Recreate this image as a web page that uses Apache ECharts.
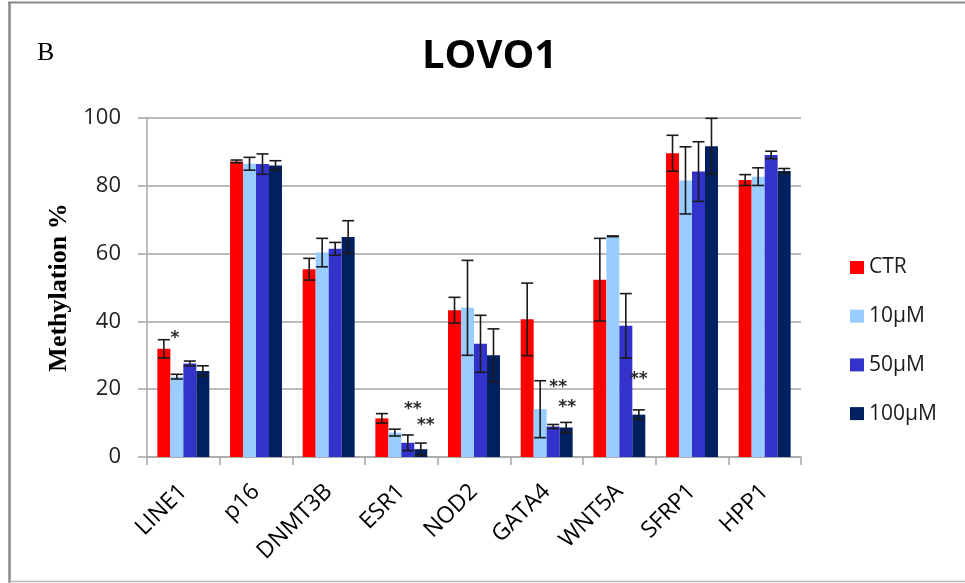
<!DOCTYPE html>
<html>
<head>
<meta charset="utf-8">
<script src="https://cdn.jsdelivr.net/npm/echarts@6/dist/echarts.min.js"></script>
<style>
  html, body { margin: 0; padding: 0; background: #fff; }
  #chart { width: 965px; height: 583px; }
</style>
</head>
<body>
<div id="chart"></div>
<script>
// Genes on the x axis
const genes = ['LINE1', 'p16', 'DNMT3B', 'ESR1', 'NOD2', 'GATA4', 'WNT5A', 'SFRP1', 'HPP1'];

// Treatment groups
const doses = ['CTR', '10µM', '50µM', '100µM'];

// Mean methylation (%) per gene, one array per treatment
const ctrMean   = [31.9, 87.2, 55.4, 11.4, 43.3, 40.6, 52.3, 89.6, 81.7];
const m10Mean   = [23.7, 86.5, 60.3,  7.2, 44.0, 14.1, 65.1, 81.6, 82.7];
const m50Mean   = [27.6, 86.4, 61.4,  4.2, 33.4,  9.0, 38.7, 84.2, 89.1];
const m100Mean  = [25.4, 86.0, 64.9,  2.3, 30.0,  8.7, 12.5, 91.7, 84.4];

// Error (± SD) per gene, one array per treatment
const ctrErr    = [2.7, 0.4, 3.2, 1.4,  3.8, 10.7, 12.2, 5.3, 1.6];
const m10Err    = [0.7, 1.9, 4.2, 1.0, 14.0,  8.4,  0.1, 9.9, 2.6];
const m50Err    = [0.7, 3.0, 1.9, 2.3,  8.4,  0.6,  9.5, 8.8, 1.1];
const m100Err   = [1.5, 1.4, 4.8, 1.8,  7.8,  1.5,  1.4, 8.2, 0.7];

// Significance markers: [gene, treatment, mark]
const sigMarks = [
  ['LINE1', '10µM',  '*'],
  ['ESR1',  '50µM',  '**'],
  ['ESR1',  '100µM', '**'],
  ['GATA4', '50µM',  '**'],
  ['GATA4', '100µM', '**'],
  ['WNT5A', '100µM', '**']
];

// Y axis ticks
const yTicks = [0, 20, 40, 60, 80, 100];

const means = [ctrMean, m10Mean, m50Mean, m100Mean];
const errs  = [ctrErr, m10Err, m50Err, m100Err];
const colors = ['#FF0000', '#99CCFF', '#3333CC', '#002060'];

// Bar layout shared by the bars and the error-bar overlay
const CAT_GAP = 0.285;
const nSeries = doses.length;

// Hand-placed nudges for the significance marks (px, relative to the bar top)
const sigNudge = {
  'LINE1|10µM':  [-2, -38],
  'ESR1|50µM':   [5, -33],
  'ESR1|100µM':  [5, -24],
  'GATA4|50µM':  [5, -39],
  'GATA4|100µM': [1, -20],
  'WNT5A|100µM': [0, -35]
};

function barCenterX(api, cat, s) {
  const band = api.size([1, 0])[0];
  const bw = band * (1 - CAT_GAP) / nSeries;
  return { x: api.coord([cat, 0])[0] + (s - (nSeries - 1) / 2) * bw, bw: bw };
}

const barSeries = doses.map((d, i) => ({
  name: d,
  type: 'bar',
  data: means[i],
  barGap: '0%',
  barCategoryGap: (CAT_GAP * 100) + '%',
  itemStyle: { color: colors[i] },
  z: 2
}));

const errData = [];
means.forEach((arr, s) => arr.forEach((v, c) => errData.push([c, s, v, errs[s][c]])));

const errSeries = {
  type: 'custom',
  name: 'error',
  data: errData,
  encode: { x: 0, y: 2 },
  z: 5,
  silent: true,
  renderItem: function (params, api) {
    const cat = api.value(0), s = api.value(1), v = api.value(2), e = api.value(3);
    const b = barCenterX(api, cat, s);
    const yTop = api.coord([cat, v + e])[1];
    const yBot = api.coord([cat, Math.max(0, v - e)])[1];
    const hw = b.bw / 2 - 0.5;
    const style = { stroke: '#1a1a1a', lineWidth: 1.6 };
    return {
      type: 'group',
      children: [
        { type: 'line', shape: { x1: b.x, y1: yTop, x2: b.x, y2: yBot }, style: style },
        { type: 'line', shape: { x1: b.x - hw, y1: yTop, x2: b.x + hw, y2: yTop }, style: style },
        { type: 'line', shape: { x1: b.x - hw, y1: yBot, x2: b.x + hw, y2: yBot }, style: style }
      ]
    };
  }
};

const sigData = sigMarks.map(m => {
  const c = genes.indexOf(m[0]), s = doses.indexOf(m[1]);
  return [c, s, means[s][c], m[2], m[0] + '|' + m[1]];
});

const sigSeries = {
  type: 'custom',
  name: 'sig',
  data: sigData,
  encode: { x: 0, y: 2 },
  z: 6,
  silent: true,
  renderItem: function (params, api) {
    const item = sigData[params.dataIndex];
    const b = barCenterX(api, item[0], item[1]);
    const y = api.coord([item[0], item[2]])[1];
    const n = sigNudge[item[4]] || [0, -20];
    return {
      type: 'text',
      x: b.x + n[0],
      y: y + n[1],
      style: {
        text: item[3],
        fill: '#2a2a2a',
        font: 'bold 17px "DejaVu Sans"',
        align: 'center',
        verticalAlign: 'middle'
      }
    };
  }
};

const chart = echarts.init(document.getElementById('chart'), null, { renderer: 'canvas' });

chart.setOption({
  backgroundColor: '#ffffff',
  animation: false,
  title: [
    {
      text: 'LOVO1',
      left: 417,
      top: 32,
      textStyle: { fontFamily: 'Open Sans', fontWeight: 'bold', fontSize: 40, color: '#000' }
    },
    {
      text: 'B',
      left: 32,
      top: 35,
      textStyle: { fontFamily: 'Liberation Serif', fontWeight: 'normal', fontSize: 26, color: '#000' }
    }
  ],
  legend: {
    orient: 'vertical',
    left: 845,
    top: 252,
    itemWidth: 14,
    itemHeight: 13,
    itemGap: 27.7,
    icon: 'rect',
    data: doses,
    selectedMode: false,
    textStyle: { fontFamily: 'Open Sans', fontSize: 21, color: '#1a1a1a', lineHeight: 20 }
  },
  grid: { left: 147, right: 164, top: 118, bottom: 126, containLabel: false },
  xAxis: {
    type: 'category',
    data: genes,
    axisLine: { lineStyle: { color: '#A6A6A6', width: 1.5 } },
    axisTick: { show: true, length: 8, alignWithLabel: false, lineStyle: { color: '#A6A6A6', width: 1.5 } },
    axisLabel: {
      interval: 0,
      rotate: 45,
      margin: 31,
      fontFamily: 'Open Sans',
      fontSize: 23,
      color: '#000'
    }
  },
  yAxis: {
    type: 'value',
    min: yTicks[0],
    max: yTicks[yTicks.length - 1],
    interval: yTicks[1] - yTicks[0],
    name: 'Methylation %',
    nameLocation: 'middle',
    nameRotate: 90,
    nameGap: 75,
    nameTextStyle: { fontFamily: 'Liberation Serif', fontWeight: 'bold', fontSize: 26, color: '#000' },
    axisLine: { show: true, lineStyle: { color: '#A6A6A6', width: 1.5 } },
    axisTick: { show: true, inside: false, length: 9, lineStyle: { color: '#A6A6A6', width: 1.5 } },
    axisLabel: { margin: 26, fontFamily: 'Open Sans', fontSize: 22, color: '#222' },
    splitLine: { show: true, lineStyle: { color: '#A6A6A6', width: 1.5 } }
  },
  graphic: [
    { type: 'line', shape: { x1: 9.5, y1: 2, x2: 9.5, y2: 583 }, style: { stroke: '#888', lineWidth: 2.5 }, silent: true },
    { type: 'line', shape: { x1: 8, y1: 2.5, x2: 965, y2: 2.5 }, style: { stroke: '#888', lineWidth: 2 }, silent: true },
    { type: 'line', shape: { x1: 9, y1: 581.5, x2: 965, y2: 581.5 }, style: { stroke: '#B8B8B8', lineWidth: 1.5 }, silent: true }
  ],
  series: barSeries.concat([errSeries, sigSeries])
});
</script>
</body>
</html>
